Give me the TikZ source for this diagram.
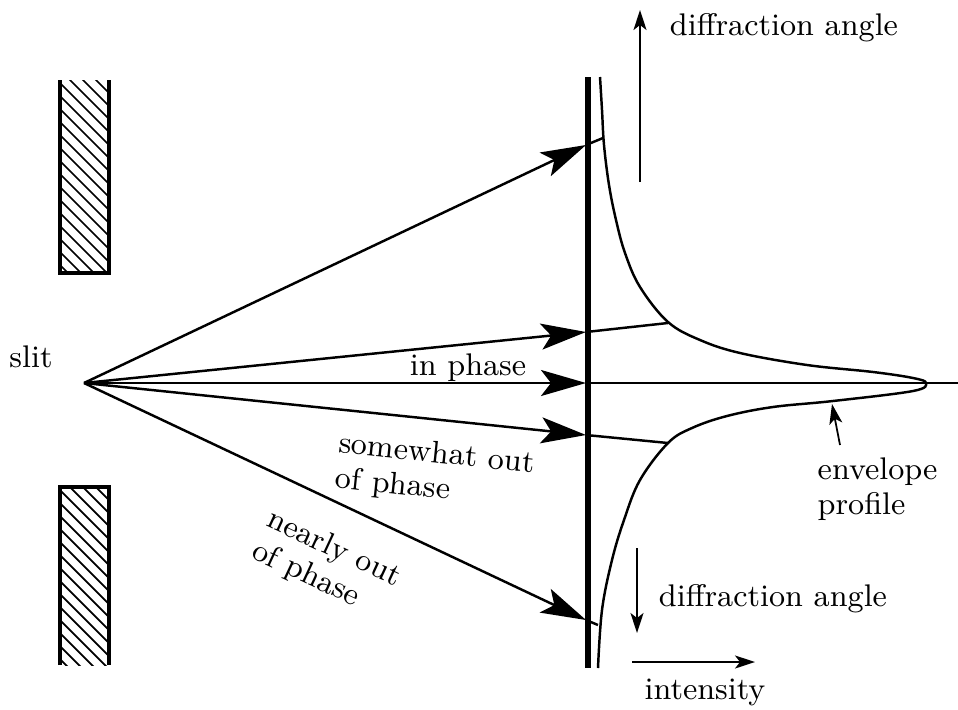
\documentclass[tikz,border=0pt]{standalone}
\usetikzlibrary{arrows.meta}

\begin{document}
\begin{tikzpicture}[x=0.01cm,y=-0.01cm,
  txt/.style={font=\fontsize{8.9}{10}\selectfont,inner sep=0pt,align=left},
  ray/.style={line width=0.7pt,-{Stealth[length=4.5mm,width=2.6mm,inset=1mm]}},
  ext/.style={line width=0.7pt},
  wall/.style={line width=1.2pt},
  hatch/.style={line width=0.5pt},
  dir/.style={line width=0.5pt,-{Stealth[length=2mm,width=1.3mm,inset=0.5mm]}}]
\useasboundingbox (0,0) rectangle (958,709);

% slit walls
\begin{scope}
  \clip (60,80) rectangle (109,273);
  \foreach \k in {0,13,...,275} \draw[hatch] (55,\k) -- ++(60,60);
\end{scope}
\draw[wall] (60,80) -- (60,273) -- (109,273) -- (109,80);
\begin{scope}
  \clip (60,487) rectangle (109,665);
  \foreach \k in {420,433,...,670} \draw[hatch] (55,\k) -- ++(60,60);
\end{scope}
\draw[wall] (60,665) -- (60,487) -- (109,487) -- (109,665);

\coordinate (slit) at (84,383);
\node[txt] (slitlbl) at (31,357) {slit};

% screen
\coordinate (scrtop) at (588,77);
\coordinate (scrbot) at (588,668);
\draw[line width=1.5pt] (scrtop) -- (scrbot);

% where the rays hit the screen and the envelope
\coordinate (h1) at (586,145);
\coordinate (h2) at (586,332);
\coordinate (h3) at (586,383);
\coordinate (h4) at (586,435);
\coordinate (h5) at (586,620);
\coordinate (e1) at (603,138);
\coordinate (e2) at (668,323);
\coordinate (e4) at (668,443);
\coordinate (e5) at (598,625);
\coordinate (axisend) at (958,383);

\foreach \i in {1,...,5} \draw[ray] (slit) -- (h\i);
\draw[ext] (h1) -- (e1);
\draw[ext] (h2) -- (e2);
\draw[ext] (h3) -- (axisend);
\draw[ext] (h4) -- (e4);
\draw[ext] (h5) -- (e5);

% envelope
\draw[line width=0.7pt] plot[smooth,tension=0.6] coordinates {(600,77) (602,110) (604,145)
  (609,185) (616,220) (625,253) (640,287) (668,322) (700,340) (740,353) (807,365)
  (873,372) (913,378) (926,383) (913,391) (833,401) (773,407) (727,416) (692,428)
  (668,443) (640,480) (624,520) (612,560) (602,610) (598,668)};

% labels on the rays
\node[txt] (inph) at (468,368) {in phase};
\node[txt,rotate=-6,anchor=north west] (somew) at (340,430) {somewhat out\\of phase};
\node[txt,rotate=-25,anchor=north west] (nearly) at (274,505) {nearly out\\of phase};

% axes
\coordinate (upfrom) at (640,182);
\coordinate (upto) at (640,10);
\coordinate (downfrom) at (637,548);
\coordinate (downto) at (637,633);
\coordinate (intfrom) at (632,662);
\coordinate (intto) at (755,662);
\draw[dir] (upfrom) -- (upto);
\draw[dir] (downfrom) -- (downto);
\draw[dir] (intfrom) -- (intto);
\node[txt] (angup) at (784,28) {diffraction angle};
\node[txt] (angdown) at (773,599) {diffraction angle};
\node[txt] (intlbl) at (705,692) {intensity};

% envelope pointer
\coordinate (envfrom) at (840,445);
\coordinate (envto) at (832,404);
\draw[dir] (envfrom) -- (envto);
\node[txt,anchor=north west] (envlbl) at (817,457) {envelope\\profile};
\end{tikzpicture}
\end{document}
